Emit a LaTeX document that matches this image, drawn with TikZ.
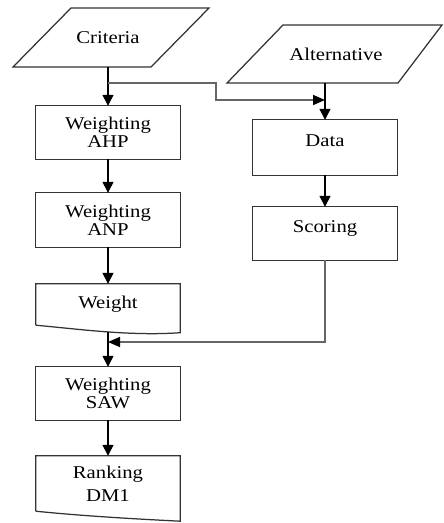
\documentclass[tikz,border=0pt]{standalone}
\usepackage{fontspec}
\usepackage{graphicx}
\setmainfont{Liberation Serif}
\usetikzlibrary{arrows.meta,calc}

% slightly widened lettering
\newcommand\wide[1]{\scalebox{1.15}[1]{#1}}

\begin{document}
\begin{tikzpicture}[x=1pt,y=-1pt,
  every node/.style={font=\fontsize{18}{18}\selectfont, inner sep=0pt},
  outline/.style={draw=black!80, line width=1.25pt, line join=miter},
  box/.style={minimum width=144pt, minimum height=53pt, align=center},
  plain/.style={minimum width=144pt, align=center},
  uptext/.style={text height=12pt, text depth=14pt},
  arr/.style={black, line width=1.3pt, -{Triangle[width=11pt,length=11pt]}},
  garr/.style={black!60, line width=1.6pt, -{Triangle[width=10pt,length=12pt,color=black]}}
]
\useasboundingbox (0,0) rectangle (444,523);

% input parallelograms
\node[minimum height=59pt] (crit) at (108,37.5) {\wide{Criteria}};
\draw[outline] ($(crit)+(-95,29.5)$) -- ($(crit)+(-37,-29.5)$)
  -- ($(crit)+(101,-29.5)$) -- ($(crit)+(43,29.5)$) -- cycle;

\node[minimum height=58pt] (alt) at (336,54) {\wide{Alternative}};
\draw[outline] ($(alt)+(-109,29)$) -- ($(alt)+(-53,-29)$)
  -- ($(alt)+(106,-29)$) -- ($(alt)+(62,29)$) -- cycle;

% left column
\node[box] (ahp) at (108,132.5) {\wide{Weighting}\\\wide{AHP}};
\node[box, minimum height=54pt] (anp) at (108,220) {\wide{Weighting}\\\wide{ANP}};
\node[plain, minimum height=41pt] (weight) at (108,304.5) {\wide{Weight}};
\draw[outline] (weight.south west) -- (weight.north west) -- (weight.north east)
  -- ($(weight.south east)+(0,7.5)$)
  .. controls ($(weight.south east)+(-50,11)$) and ($(weight.south west)+(44,4)$) .. (weight.south west);
\coordinate (wbot) at ($(weight.south)+(0,6.5)$);
\node[box] (saw) at (108,393.5) {\wide{Weighting}\\\wide{SAW}};
\node[plain, minimum height=55pt] (rank) at (108,483.5) {\wide{Ranking}\\[5pt]\wide{DM1}};
\draw[outline] (rank.south west) -- (rank.north west) -- (rank.north east)
  -- ($(rank.south east)+(0,10)$)
  .. controls ($(rank.south east)+(-50,7.5)$) and ($(rank.south west)+(44,4.5)$) .. (rank.south west);

% right column
\node[box, minimum height=55pt, uptext] (data) at (325,147.5) {\wide{Data}};
\node[box, uptext] (scoring) at (325,233.5) {\wide{Scoring}};

% process box frames
\foreach \b in {ahp,anp,saw,data,scoring}
  \draw[outline] (\b.north west) rectangle (\b.south east);

% junction points
\coordinate (split) at (108,83);
\coordinate (bend) at (216,100);
\coordinate (join) at (108,342);

% connectors
\draw[arr] (crit.south -| ahp.north) -- (ahp.north);
\draw[garr] (split) -| (bend) -- (bend -| data.north);
\draw[arr] (ahp) -- (anp);
\draw[arr] (anp) -- (weight);
\draw[arr] (wbot) -- (saw.north);
\draw[arr] (saw) -- (rank);
\draw[arr] (alt.south -| data.north) -- (data.north);
\draw[arr] (data) -- (scoring);
\draw[garr] (scoring.south) |- (join);
\end{tikzpicture}
\end{document}
